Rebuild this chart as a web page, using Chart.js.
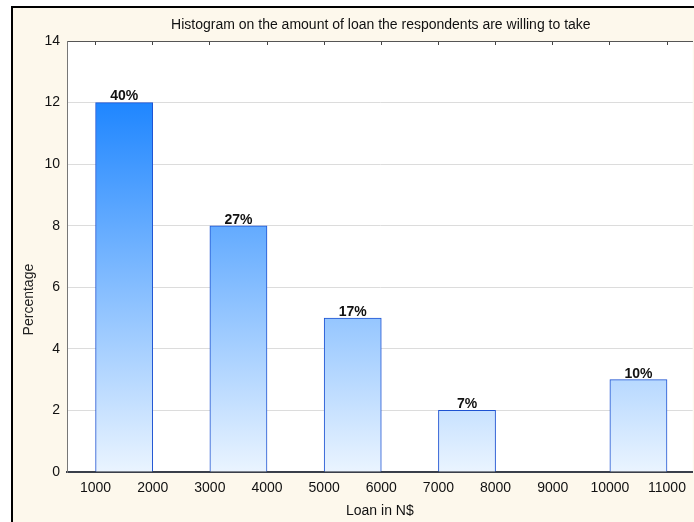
<!DOCTYPE html>
<html>
<head>
<meta charset="utf-8">
<script src="https://cdn.jsdelivr.net/npm/chart.js@4"></script>
<style>
  html, body { margin: 0; padding: 0; background: #ffffff; overflow: hidden; }
  #panel {
    position: absolute; left: 11px; top: 6px; width: 700px; height: 530px;
    border-left: 2px solid #000; border-top: 2px solid #000;
    background: #fdf8ec;
  }
  #wrap { position: absolute; left: 0; top: 0; width: 694px; height: 522px; }
</style>
</head>
<body>
<div id="panel"></div>
<div id="wrap"><canvas id="chart"></canvas></div>
<script>
// loan bins (N$) and how many respondents fell in each
var binLow = [1000, 3000, 5000, 7000, 10000];
var binHigh = [2000, 4000, 6000, 8000, 11000];
var counts = [12, 8, 5, 2, 3];
var yTicks = [0, 2, 4, 6, 8, 10, 12, 14];
var xTicks = [1000, 2000, 3000, 4000, 5000, 6000, 7000, 8000, 9000, 10000, 11000];

var FONT = "'Liberation Sans', Arial, sans-serif";
var chartTitle = 'Histogram on the amount of loan the respondents are willing to take';
var total = counts.reduce(function (a, b) { return a + b; }, 0);
var pctLabels = counts.map(function (c) { return Math.round(c / total * 100) + '%'; });

var points = binLow.map(function (lo, i) {
    return { x: (lo + binHigh[i]) / 2, y: counts[i] };
});

// white plot background
var plotBg = {
    id: 'plotBg',
    beforeDraw: function (chart) {
        var a = chart.chartArea, c = chart.ctx;
        c.save();
        c.fillStyle = '#ffffff';
        c.fillRect(a.left, a.top, a.right - a.left, a.bottom - a.top);
        c.restore();
    }
};

// title centred over the plot, percentage on top of each bar, rotated y title
var texts = {
    id: 'texts',
    afterDatasetsDraw: function (chart) {
        var c = chart.ctx;
        var a = chart.chartArea;
        var meta = chart.getDatasetMeta(0);
        c.save();
        c.textAlign = 'center';
        c.fillStyle = '#111';

        c.font = '14px ' + FONT;
        c.textBaseline = 'middle';
        c.fillText(chartTitle, (a.left + a.right) / 2 + 1, a.top - 16);

        c.font = 'bold 14px ' + FONT;
        c.textBaseline = 'bottom';
        meta.data.forEach(function (bar, i) {
            c.fillText(pctLabels[i], bar.x, bar.y + 1);
        });

        c.translate(a.left - 38, a.top + (a.bottom - a.top) * 0.6);
        c.rotate(-Math.PI / 2);
        c.font = '14px ' + FONT;
        c.textBaseline = 'middle';
        c.fillStyle = '#222';
        c.fillText('Percentage', 0, 0);
        c.restore();
    }
};

function barFill(ctx) {
    var chart = ctx.chart;
    if (!chart.chartArea) return '#7fbfff';
    var y = chart.scales.y;
    var g = chart.ctx.createLinearGradient(0, y.getPixelForValue(Math.max.apply(null, counts)), 0, y.getPixelForValue(0));
    g.addColorStop(0, '#1f86ff');
    g.addColorStop(1, '#eaf4ff');
    return g;
}

var xRange = { min: 500, max: 11450 };
function plainTick(v) { return String(v); }

new Chart(document.getElementById('chart'), {
    type: 'bar',
    data: {
        datasets: [{
            data: points,
            backgroundColor: barFill,
            borderColor: '#1d52d2',
            borderWidth: 1,
            barPercentage: 1,
            categoryPercentage: 1
        }]
    },
    options: {
        responsive: true,
        maintainAspectRatio: false,
        animation: false,
        events: [],
        layout: { padding: { top: 41, left: 0, right: 0, bottom: 0 } },
        plugins: {
            legend: { display: false },
            tooltip: { enabled: false },
            title: { display: false }
        },
        scales: {
            x: {
                type: 'linear',
                position: 'bottom',
                offset: false,
                min: xRange.min,
                max: xRange.max,
                bounds: 'data',
                afterBuildTicks: function (s) { s.ticks = xTicks.map(function (v) { return { value: v }; }); },
                afterFit: function (s) { s.height = 50; },
                ticks: { color: '#111', font: { family: FONT, size: 14 }, padding: 8, maxRotation: 0, autoSkip: false, callback: plainTick },
                grid: { drawOnChartArea: false, drawTicks: false, offset: false },
                border: { color: '#3a3f4a', width: 2 },
                title: {
                    display: true,
                    text: 'Loan in N$',
                    color: '#111',
                    font: { family: FONT, size: 14 },
                    padding: { top: 0, bottom: 2 }
                }
            },
            xTop: {
                type: 'linear',
                position: 'top',
                offset: false,
                min: xRange.min,
                max: xRange.max,
                bounds: 'data',
                afterBuildTicks: function (s) { s.ticks = xTicks.map(function (v) { return { value: v }; }); },
                afterFit: function (s) { s.height = 0; },
                ticks: { display: false },
                grid: { drawOnChartArea: false, tickLength: -4, color: '#444', offset: false },
                border: { color: '#555', width: 1 }
            },
            y: {
                min: 0,
                max: 14,
                afterBuildTicks: function (s) { s.ticks = yTicks.map(function (v) { return { value: v }; }); },
                afterFit: function (s) { s.width = 67; },
                ticks: { color: '#111', font: { family: FONT, size: 14 }, padding: 7 },
                grid: { color: '#dcdcdc', drawTicks: false },
                border: { color: '#777', width: 1 }
            }
        }
    },
    plugins: [plotBg, texts]
});
</script>
</body>
</html>
